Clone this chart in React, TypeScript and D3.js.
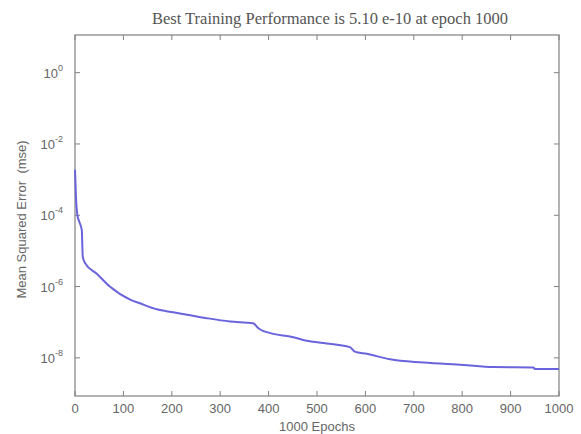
import React from "react";
import * as d3 from "d3";

const epochs = [0, 2, 5, 9, 14, 16, 21, 45, 72, 114, 134, 169, 203, 272, 320, 368, 379, 410, 444, 479, 513, 568, 578, 603, 651, 720, 802, 864, 947, 950, 1000];
const mse = [1.9e-3, 3.3e-4, 1.0e-4, 6.5e-5, 3.9e-5, 6.9e-6, 4.5e-6, 2.3e-6, 1.0e-6, 4.3e-7, 3.4e-7, 2.3e-7, 1.9e-7, 1.3e-7, 1.05e-7, 9.3e-8, 6.8e-8, 4.7e-8, 4.0e-8, 3.0e-8, 2.6e-8, 2.0e-8, 1.5e-8, 1.3e-8, 9.1e-9, 7.4e-9, 6.3e-9, 5.5e-9, 5.4e-9, 4.9e-9, 4.9e-9];
const xTicks = [0, 100, 200, 300, 400, 500, 600, 700, 800, 900, 1000];
const yTickExps = [0, -2, -4, -6, -8];
const titleText = "Best Training Performance is 5.10 e-10 at epoch 1000";
const xLabel = "1000 Epochs";
const yLabel = "Mean Squared Error\u00a0\u00a0(mse)";

export default function App() {
  const W = 581, H = 434;
  const left = 75, right = 559, top = 35, bottom = 396;
  const x = d3.scaleLinear().domain([0, 1000]).range([left, right]);
  const y = d3.scaleLog().domain([Math.pow(10, -9.07), Math.pow(10, 1.057)]).range([bottom, top]);
  const pts = epochs.map((e, i) => [e, mse[i]] as [number, number]);
  const line = d3.line<[number, number]>().x(d => x(d[0])).y(d => y(d[1])).curve(d3.curveMonotoneX);
  const axisColor = "#808080";
  const textColor = "#666";
  const font = "Arial, 'Liberation Sans', sans-serif";
  const tl = 5;
  return (
    <svg width={W} height={H} style={{ position: "absolute", left: 0, top: 0, background: "#fff" }}>
      <rect x={0} y={0} width={W} height={H} fill="#fff" />
      <text x={330} y={24} textAnchor="middle" fontFamily="'Liberation Serif', 'Times New Roman', serif" fontSize={16.5} fill="#555">{titleText}</text>
      <rect x={left} y={top} width={right - left} height={bottom - top} fill="none" stroke={axisColor} strokeWidth={1.2} />
      {xTicks.map(t => (
        <g key={"x" + t}>
          <line x1={x(t)} x2={x(t)} y1={bottom} y2={bottom - tl} stroke={axisColor} />
          <line x1={x(t)} x2={x(t)} y1={top} y2={top + tl} stroke={axisColor} />
          <text x={x(t)} y={413} textAnchor="middle" fontFamily={font} fontSize={13} fill={textColor}>{t}</text>
        </g>
      ))}
      {yTickExps.map(p => {
        const yy = y(Math.pow(10, p));
        return (
          <g key={"y" + p}>
            <line x1={left} x2={left + tl} y1={yy} y2={yy} stroke={axisColor} />
            <line x1={right} x2={right - tl} y1={yy} y2={yy} stroke={axisColor} />
            <text x={63} y={yy + 5} textAnchor="end" fontFamily={font} fontSize={13} fill={textColor}>
              10<tspan dy={-7} fontSize={9}>{p}</tspan>
            </text>
          </g>
        );
      })}
      <path d={line(pts) || ""} fill="none" stroke="#6a64dc" strokeWidth={2} />
      <text x={317} y={431} textAnchor="middle" fontFamily={font} fontSize={13} fill={textColor}>{xLabel}</text>
      <text transform={`translate(26,${(top + bottom) / 2 + 4}) rotate(-90)`} textAnchor="middle" fontFamily={font} fontSize={13} fill={textColor}>{yLabel}</text>
    </svg>
  );
}
